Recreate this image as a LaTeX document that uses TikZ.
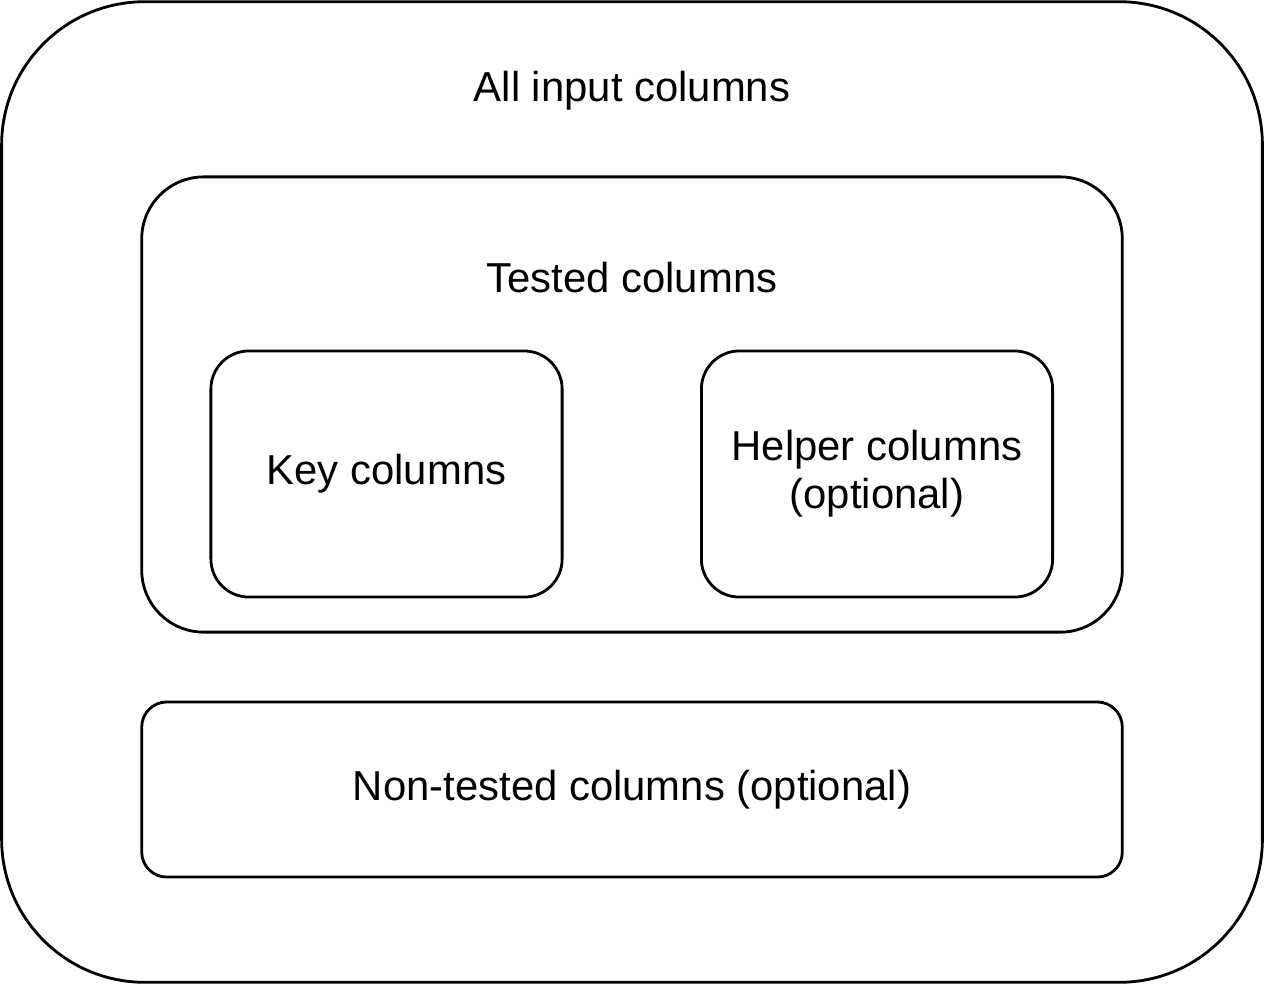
\documentclass[tikz,border=0pt]{standalone}
\usepackage{fontspec}
\setmainfont{Liberation Sans}
\begin{document}
\begin{tikzpicture}[x=0.01cm, y=-0.01cm,
	box/.style={draw, line width=0.8pt, text centered, inner sep=0pt},
	lbl/.style={font=\fontsize{11.9}{13.6}\selectfont, align=center}]
		
		\useasboundingbox (0,0) rectangle (1264,984);
		
		%Outer box
		\node (allBox) at (632,492) [box, rounded corners=1.43cm, minimum width=12.6cm, 
		minimum height=9.8cm]{};
		\node (allText) at (632,91) [lbl]{All input columns};
		
		%Tested part
		\node (testedBox) at (632,404.5) [box, rounded corners=0.62cm, minimum width=9.8cm, 
		minimum height=4.55cm]{};
		\node (testedText) at (632,278) [lbl]{Tested columns};
		
		\node (keyBox) at (386.5,474) [box, lbl, rounded corners=0.38cm, minimum width=3.51cm, 
		minimum height=2.46cm]{Key columns};
		
		\node (helperBox) at (877,474) [box, lbl, rounded corners=0.38cm, minimum width=3.51cm, 
		minimum height=2.46cm]{Helper columns\\(optional)};
		
		%Non-tested part
		\node (nontestedBox) at (632,789.5) [box, lbl, rounded corners=0.25cm, minimum width=9.8cm, 
		minimum height=1.75cm]{Non-tested columns (optional)};
		\end{tikzpicture}
\end{document}
